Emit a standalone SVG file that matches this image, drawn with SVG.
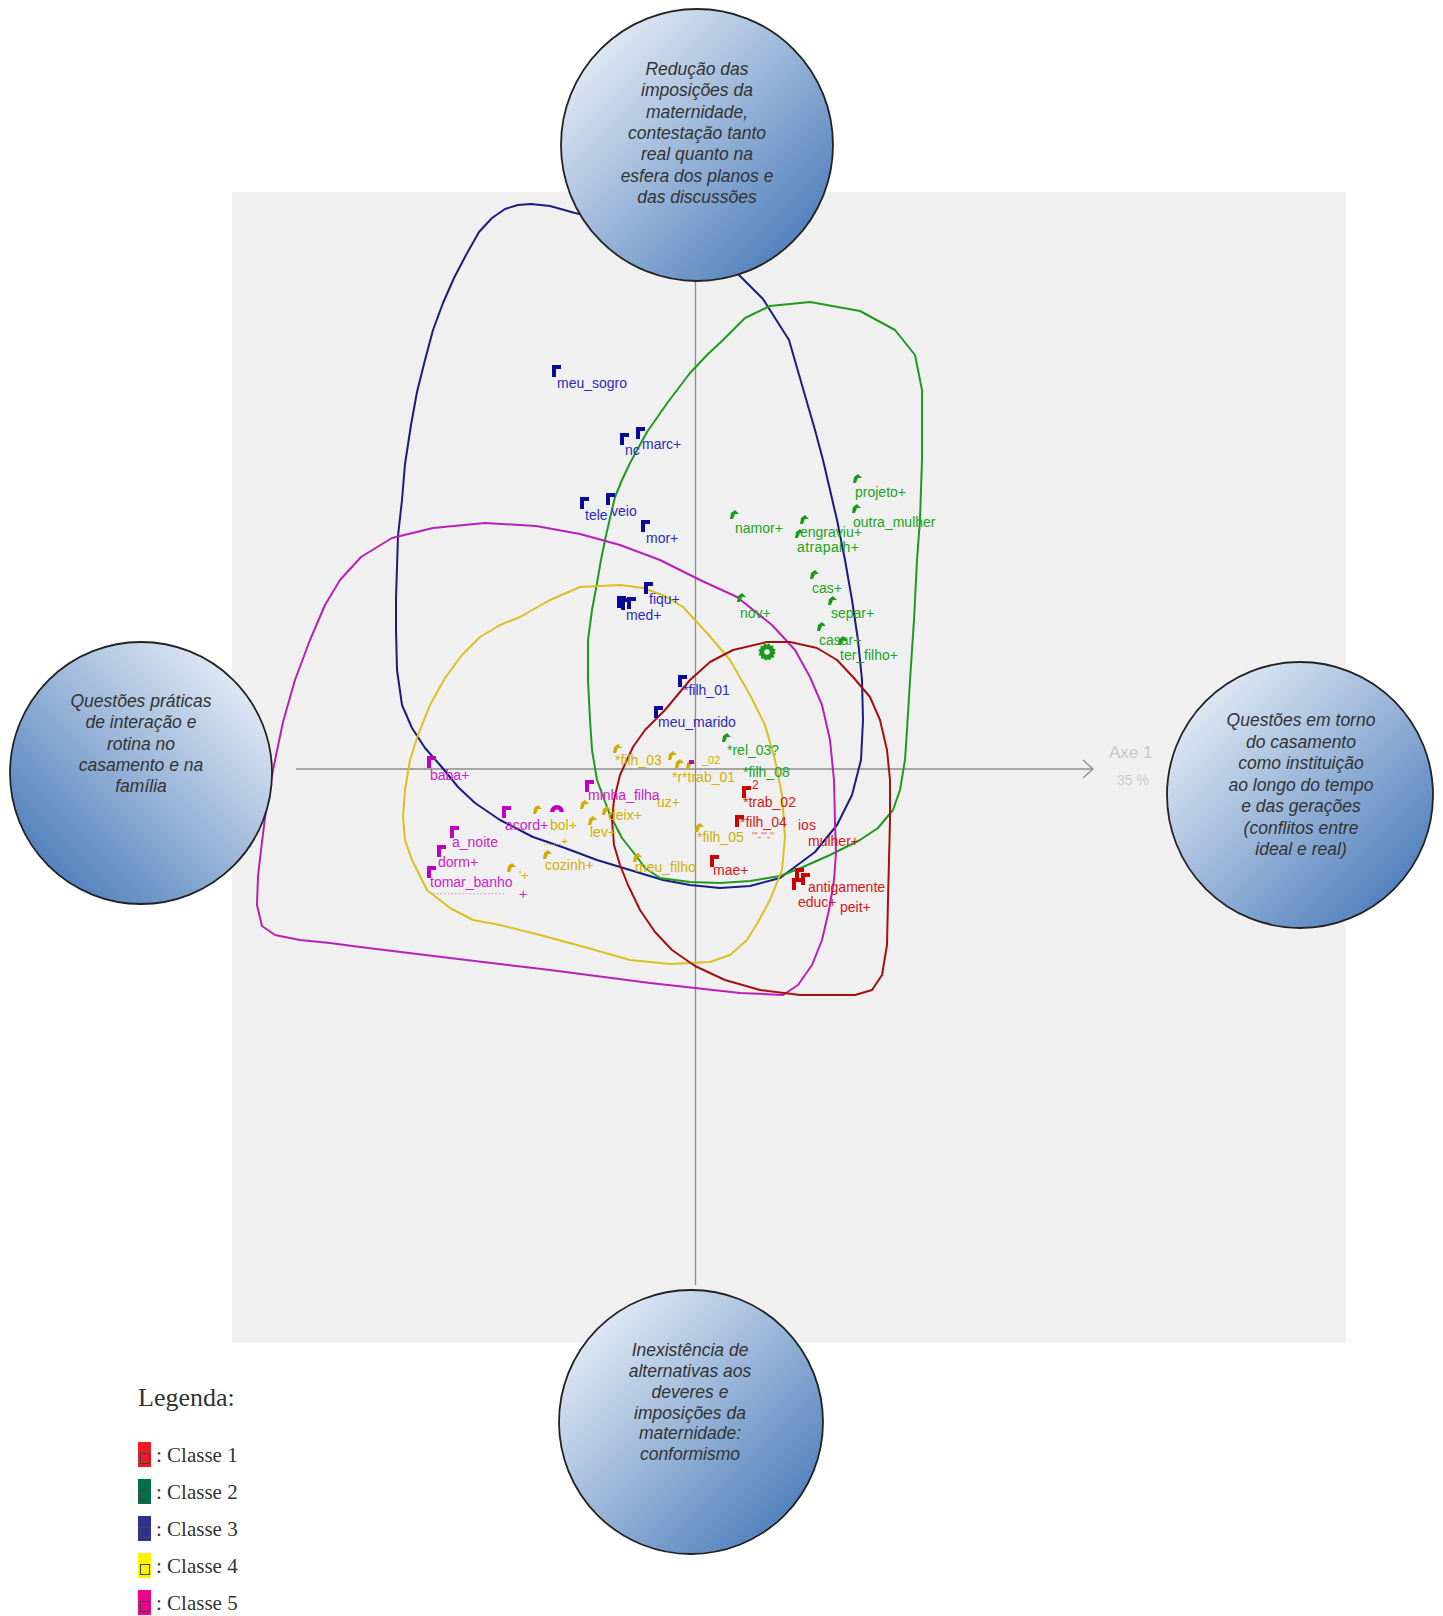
<svg xmlns="http://www.w3.org/2000/svg" xmlns:xlink="http://www.w3.org/1999/xlink" width="1443" height="1616" viewBox="0 0 1443 1616">
  <style>
    .lbl { font-family: "Liberation Sans", Arial, sans-serif; font-size: 14px; }
    .c1 { fill: #d41818; }
    .c2 { fill: #22a322; }
    .c3 { fill: #2b2bb8; }
    .c4 { fill: #d2b000; }
    .c5 { fill: #cc22cc; }
    .hull { fill: none; stroke-width: 2; stroke-linejoin: round; }
    .node circle.disc { stroke: #222; stroke-width: 1.8; }
    .node text { font-family: "Liberation Sans", Arial, sans-serif; font-size: 17.5px; font-style: italic; fill: #333; text-anchor: middle; }
    .leg { font-family: "Liberation Serif", "Times New Roman", serif; fill: #333; }
  </style>
  <defs>
    <linearGradient id="gradR" x1="0.15" y1="0.15" x2="0.85" y2="0.85">
      <stop offset="0" stop-color="#dce6f2"/>
      <stop offset="1" stop-color="#5583be"/>
    </linearGradient>
    <linearGradient id="gradL" x1="0.85" y1="0.15" x2="0.15" y2="0.85">
      <stop offset="0" stop-color="#dce6f2"/>
      <stop offset="1" stop-color="#5583be"/>
    </linearGradient>
    <path id="flag" d="M0,0h9v4h-5v8h-4z"/>
    <path id="hook" d="M0,9 L1,3 L5,0 L9,4 L5,4 L3,9 z"/>
  </defs>

  <rect width="1443" height="1616" fill="#ffffff"/>

  <!-- plot area -->
  <rect x="232" y="192" width="1114" height="1151" fill="#f0f0f0"/>

  <!-- axes -->
  <g id="axes" stroke="#8c8c8c" stroke-width="1.3" fill="none">
    <line x1="695.5" y1="200" x2="695.5" y2="1285"/>
    <line x1="296" y1="769" x2="1093" y2="769"/>
    <polyline points="1083,760 1093,769 1083,778"/>
  </g>
  <text x="1109" y="758" font-family="Liberation Sans, Arial, sans-serif" font-size="17" fill="#c8c8c8">Axe 1</text>
  <text x="1117" y="785" font-family="Liberation Sans, Arial, sans-serif" font-size="14" fill="#cccccc">35 %</text>

  <!-- class hulls -->
  <g id="connectors">
    <path id="hull3" class="hull" stroke="#1c1c80" d="M734,270 L763,299 L789,340 L804,392 L815,430 L823,460 L830,490 L837,520 L845,560 L852,600 L858,640 L862,680 L863,720 L861,760 L852,795 L837,825 L815,852 L780,878 L750,886 L720,888 L690,885 L663,880 L630,870 L597,860 L565,848 L533,837 L500,820 L475,803 L458,787 L440,765 L425,748 L412,728 L402,705 L397,670 L396,630 L396,598 L398,536 L402,500 L405,464 L411,425 L417,392 L425,360 L433,330 L443,303 L454,278 L466,255 L479,232 L492,218 L505,209 L518,205 L531,204 L550,206 L575,213 L650,230 Z"/>
    <path id="hull2" class="hull" stroke="#1f9a1f" d="M723,340 L745,318 L770,306 L810,302 L860,311 L895,330 L915,355 L922,390 L922,460 L920,520 L917,560 L914,620 L910,680 L907,730 L905,760 L900,790 L893,810 L878,828 L860,840 L830,855 L803,867 L780,876 L750,881 L720,883 L690,882 L660,878 L645,868 L637,857 L622,838 L610,815 L597,780 L592,750 L590,720 L588,680 L588,640 L592,610 L597,583 L601,560 L605,540 L610,518 L615,497 L622,480 L630,463 L647,432 L668,402 L690,373 L707,355 Z"/>
    <path id="hull5" class="hull" stroke="#b820b8" d="M392,538 L433,528 L485,523 L536,526 L580,534 L620,545 L660,560 L700,580 L737,597 L772,625 L795,650 L810,677 L822,705 L830,740 L834,780 L835,823 L836,853 L834,880 L829,910 L822,940 L812,965 L798,985 L783,995 L740,993 L650,983 L550,970 L450,958 L360,947 L330,943 L300,940 L275,935 L262,926 L257,905 L258,876 L261,850 L266,810 L273,770 L283,722 L295,680 L310,640 L325,605 L340,580 L361,557 Z"/>
    <path id="hull4" class="hull" stroke="#d8c020" d="M403,817 L405,790 L410,760 L418,735 L430,705 L445,678 L462,655 L480,637 L500,625 L520,617 L550,600 L580,587 L620,585 L643,588 L665,596 L683,607 L707,633 L730,660 L750,695 L765,725 L775,760 L782,795 L785,837 L782,870 L770,900 L758,922 L747,940 L730,955 L710,962 L670,964 L630,960 L588,948 L540,935 L500,925 L473,920 L450,908 L427,890 L412,860 L405,840 Z"/>
    <path id="hull1" class="hull" stroke="#a31010" d="M620,775 L614,800 L612,820 L614,845 L620,865 L628,885 L640,910 L655,932 L672,950 L695,966 L725,980 L760,990 L800,995 L855,995 L872,990 L882,975 L887,945 L888,900 L889,860 L890,820 L890,780 L887,750 L880,720 L870,697 L853,677 L837,660 L817,648 L790,642 L767,642 L733,650 L710,662 L690,680 L665,710 L645,730 L633,747 Z"/>
  </g>

  <!-- Classe 3 -->
  <g id="classe3" class="lbl c3">
    <g fill="#0a0a9a">
      <use xlink:href="#flag" x="552" y="365"/>
      <use xlink:href="#flag" x="620" y="433"/>
      <use xlink:href="#flag" x="636" y="427"/>
      <use xlink:href="#flag" x="580" y="497"/>
      <use xlink:href="#flag" x="606" y="493"/>
      <use xlink:href="#flag" x="641" y="520"/>
      <use xlink:href="#flag" x="644" y="582"/>
      <use xlink:href="#flag" x="617" y="596"/>
      <use xlink:href="#flag" x="621" y="598"/>
      <use xlink:href="#flag" x="627" y="597"/>
      <use xlink:href="#flag" x="678" y="675"/>
      <use xlink:href="#flag" x="654" y="706"/>
    </g>
    <text x="557" y="388">meu_sogro</text>
    <text x="625" y="455">nc</text>
    <text x="642" y="449">marc+</text>
    <text x="585" y="520">tele</text>
    <text x="611" y="516">veio</text>
    <text x="646" y="543">mor+</text>
    <text x="649" y="604">fiqu+</text>
    <text x="626" y="620">med+</text>
    <text x="683" y="695">*filh_01</text>
    <text x="658" y="727">meu_marido</text>
  </g>

  <!-- Classe 2 -->
  <g id="classe2" class="lbl c2">
    <g fill="#1a9a1a">
      <use xlink:href="#hook" x="853" y="474"/>
      <use xlink:href="#hook" x="852" y="504"/>
      <use xlink:href="#hook" x="730" y="510"/>
      <use xlink:href="#hook" x="800" y="515"/>
      <use xlink:href="#hook" x="795" y="529"/>
      <use xlink:href="#hook" x="810" y="570"/>
      <use xlink:href="#hook" x="828" y="596"/>
      <use xlink:href="#hook" x="817" y="622"/>
      <use xlink:href="#hook" x="838" y="636"/>
      <use xlink:href="#hook" x="737" y="593"/>
      <use xlink:href="#hook" x="722" y="733"/>
    </g>
    <text x="855" y="497">projeto+</text>
    <text x="853" y="527">outra_mulher</text>
    <text x="735" y="533">namor+</text>
    <text x="800" y="537">engraviu+</text>
    <text x="797" y="552" textLength="62">atrapalh+</text>
    <text x="812" y="593">cas+</text>
    <text x="831" y="618">separ+</text>
    <text x="819" y="645">casar+</text>
    <text x="840" y="660">ter_filho+</text>
    <text x="740" y="618">nov+</text>
    <text x="727" y="755">*rel_03?</text>
    <text x="743" y="777">*filh_08</text>
    <g transform="translate(767,652)">
      <circle r="7.5" fill="#1a9a1a" stroke="#1a9a1a" stroke-width="2" stroke-dasharray="2 2"/>
      <circle r="2.8" fill="#f0f0f0"/>
    </g>
  </g>

  <!-- Classe 4 -->
  <g id="classe4" class="lbl c4">
    <g fill="#d0ac00">
      <use xlink:href="#hook" x="613" y="744"/>
      <use xlink:href="#hook" x="668" y="751"/>
      <use xlink:href="#hook" x="675" y="759"/>
      <use xlink:href="#hook" x="686" y="760"/>
      <use xlink:href="#hook" x="695" y="823"/>
      <use xlink:href="#hook" x="633" y="853"/>
      <use xlink:href="#hook" x="602" y="806"/>
      <use xlink:href="#hook" x="588" y="816"/>
      <use xlink:href="#hook" x="580" y="800"/>
      <use xlink:href="#hook" x="533" y="805"/>
      <use xlink:href="#hook" x="543" y="850"/>
      <use xlink:href="#hook" x="507" y="863"/>
    </g>
    <text x="615" y="765">*filh_03</text>
    <text x="672" y="782">*r*trab_01</text>
    <text x="702" y="764" font-size="11">_02</text>
    <text x="697" y="842">*filh_05</text>
    <text x="635" y="872">meu_filho</text>
    <text x="657" y="807">uz+</text>
    <text x="608" y="820">deix+</text>
    <text x="590" y="837">lev+</text>
    <text x="550" y="830">bol+</text>
    <text x="543" y="845" font-size="11">......+</text>
    <text x="545" y="870">cozinh+</text>
    <text x="519" y="880" font-size="12">'+</text>
  </g>

  <!-- Classe 5 -->
  <g id="classe5" class="lbl c5">
    <g fill="#c000c0">
      <use xlink:href="#flag" x="427" y="756"/>
      <use xlink:href="#flag" x="585" y="780"/>
      <use xlink:href="#flag" x="502" y="806"/>
      <use xlink:href="#flag" x="450" y="826"/>
      <use xlink:href="#flag" x="437" y="845"/>
      <use xlink:href="#flag" x="427" y="866"/>
      <rect x="689" y="760" width="5" height="4"/>
    </g>
    <text x="430" y="780">baba+</text>
    <text x="588" y="800">minha_filha</text>
    <text x="505" y="830">acord+</text>
    <text x="452" y="847">a_noite</text>
    <text x="438" y="867">dorm+</text>
    <text x="430" y="887">tomar_banho</text>
    <text x="432" y="897" font-size="11" opacity="0.6">····················</text>
    <text x="519" y="899">+</text>
    <g transform="translate(557,809)">
      <path d="M-7,3 A7,7 0 0 1 7,3 Z" fill="#c000c0"/>
      <path d="M-2.5,3 A2.5,2.5 0 0 1 2.5,3 Z" fill="#f0f0f0"/>
    </g>
  </g>

  <!-- Classe 1 -->
  <g id="classe1" class="lbl c1">
    <g fill="#cc0000">
      <use xlink:href="#flag" x="742" y="786"/>
      <use xlink:href="#flag" x="735" y="815"/>
      <use xlink:href="#flag" x="710" y="855"/>
      <use xlink:href="#flag" x="795" y="868"/>
      <use xlink:href="#flag" x="801" y="873"/>
      <use xlink:href="#flag" x="792" y="878"/>
    </g>
    <text x="752" y="789" font-size="12">2</text>
    <text x="743" y="807">*trab_02</text>
    <text x="740" y="827">*filh_04</text>
    <text x="752" y="840" font-size="10" opacity="0.7">'''‑'''‑''</text>
    <text x="798" y="830">ios</text>
    <text x="808" y="846">mulher+</text>
    <text x="713" y="875">mae+</text>
    <text x="808" y="892">antigamente</text>
    <text x="798" y="907">educ+</text>
    <text x="840" y="912">peit+</text>
  </g>

  <!-- theme nodes -->
  <g id="node-top" class="node">
    <circle class="disc" cx="697" cy="145" r="136" fill="url(#gradR)"/>
    <text x="697" y="75">Redução das</text>
    <text x="697" y="96.3">imposições da</text>
    <text x="697" y="117.6">maternidade,</text>
    <text x="697" y="139">contestação tanto</text>
    <text x="697" y="160.3">real quanto na</text>
    <text x="697" y="181.6">esfera dos planos e</text>
    <text x="697" y="203">das discussões</text>
  </g>
  <g id="node-left" class="node">
    <circle class="disc" cx="141" cy="773" r="131" fill="url(#gradL)"/>
    <text x="141" y="707">Questões práticas</text>
    <text x="141" y="728.3">de interação e</text>
    <text x="141" y="749.6">rotina no</text>
    <text x="141" y="771">casamento e na</text>
    <text x="141" y="792.3">família</text>
  </g>
  <g id="node-right" class="node">
    <circle class="disc" cx="1300" cy="795" r="133" fill="url(#gradR)"/>
    <text x="1301" y="726">Questões em torno</text>
    <text x="1301" y="747.5">do casamento</text>
    <text x="1301" y="769">como instituição</text>
    <text x="1301" y="790.5">ao longo do tempo</text>
    <text x="1301" y="812">e das gerações</text>
    <text x="1301" y="833.5">(conflitos entre</text>
    <text x="1301" y="855">ideal e real)</text>
  </g>
  <g id="node-bottom" class="node">
    <circle class="disc" cx="691" cy="1422" r="132" fill="url(#gradR)"/>
    <text x="690" y="1356">Inexistência de</text>
    <text x="690" y="1377">alternativas aos</text>
    <text x="690" y="1397.5">deveres e</text>
    <text x="690" y="1418.5">imposições da</text>
    <text x="690" y="1439">maternidade:</text>
    <text x="690" y="1460">conformismo</text>
  </g>

  <!-- legend -->
  <g id="legend">
    <text class="leg" x="138" y="1406" font-size="26">Legenda:</text>
    <g stroke="#444" stroke-width="1" fill="none">
      <rect x="138" y="1442" width="13" height="25" fill="#ed1c24" stroke="none"/>
      <rect x="140.5" y="1453.5" width="9" height="10"/>
      <rect x="138" y="1479" width="13" height="25" fill="#00704a" stroke="none"/>
      <rect x="140.5" y="1490.5" width="9" height="10"/>
      <rect x="138" y="1516" width="13" height="25" fill="#2e3192" stroke="none"/>
      <rect x="140.5" y="1527.5" width="9" height="10"/>
      <rect x="138" y="1553" width="13" height="25" fill="#fff200" stroke="none"/>
      <rect x="140.5" y="1564.5" width="9" height="10"/>
      <rect x="138" y="1590" width="13" height="25" fill="#ec008c" stroke="none"/>
      <rect x="140.5" y="1601.5" width="9" height="10"/>
    </g>
    <text class="leg" x="156" y="1462" font-size="21">: Classe 1</text>
    <text class="leg" x="156" y="1499" font-size="21">: Classe 2</text>
    <text class="leg" x="156" y="1536" font-size="21">: Classe 3</text>
    <text class="leg" x="156" y="1573" font-size="21">: Classe 4</text>
    <text class="leg" x="156" y="1610" font-size="21">: Classe 5</text>
  </g>
</svg>
